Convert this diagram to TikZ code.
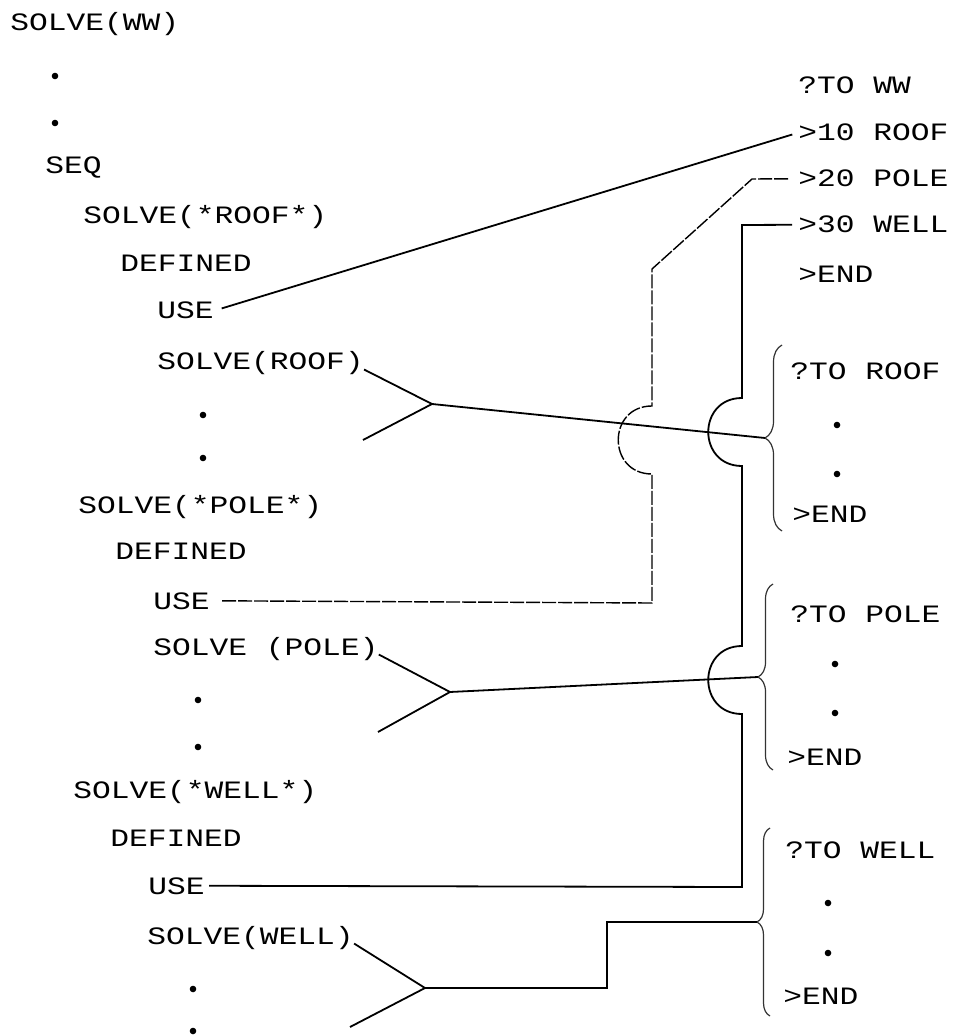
\documentclass[tikz,border=0pt]{standalone}
\usepackage{fontspec}
\setmonofont[FakeStretch=1.25]{Liberation Mono}
\usetikzlibrary{decorations.pathreplacing}

\begin{document}
\begin{tikzpicture}[
  x=0.5pt, y=-0.5pt,
  font=\ttfamily\fontsize{12.5}{15}\selectfont,
  txt/.style={anchor=base west, inner sep=0pt},
  dotm/.style={circle, fill, inner sep=0pt, minimum size=3.3pt},
  wire/.style={line width=0.9pt},
  dwire/.style={line width=0.7pt, dash pattern=on 7pt off 1pt},
  curly/.style={line width=0.6pt, black!80, decorate, decoration={brace, amplitude=#1}}
]
\useasboundingbox (0,0) rectangle (952,1036);

% ---- goal tree (left column) ----
\node[txt] (sww)     at (10,31)   {SOLVE(WW)};
\node[dotm] (d1)     at (55,76)   {};
\node[dotm] (d2)     at (55,123)  {};
\node[txt] (seq)     at (45,174)  {SEQ};

\node[txt] (sroofx)  at (83,224)  {SOLVE(*ROOF*)};
\node[txt] (defroof) at (120,272) {DEFINED};
\node[txt] (useroof) at (157,319) {USE};
\node[txt] (sroof)   at (157,370) {SOLVE(ROOF)};
\node[dotm] (d3)     at (203,415) {};
\node[dotm] (d4)     at (203,458) {};

\node[txt] (spolex)  at (78,513)  {SOLVE(*POLE*)};
\node[txt] (defpole) at (115,559) {DEFINED};
\node[txt] (usepole) at (153,609) {USE};
\node[txt] (spole)   at (153,655) {SOLVE (POLE)};
\node[dotm] (d5)     at (198,700) {};
\node[dotm] (d6)     at (198,747) {};

\node[txt] (swellx)  at (73,798)  {SOLVE(*WELL*)};
\node[txt] (defwell) at (110,846) {DEFINED};
\node[txt] (usewell) at (148,894) {USE};
\node[txt] (swell)   at (147,944) {SOLVE(WELL)};
\node[dotm] (d7)     at (193,989) {};
\node[dotm] (d8)     at (193,1031) {};

% ---- procedures (right column) ----
\node[txt] (toww)    at (798,94)  {?TO WW};
\node[txt] (l10)     at (798,141) {>10 ROOF};
\node[txt] (l20)     at (798,187) {>20 POLE};
\node[txt] (l30)     at (798,233) {>30 WELL};
\node[txt] (lend)    at (798,283) {>END};

\node[txt] (toroof)  at (790,380) {?TO ROOF};
\node[dotm] (r1)     at (837,425) {};
\node[dotm] (r2)     at (837,474) {};
\node[txt] (endroof) at (792,522) {>END};

\node[txt] (topole)  at (790,622) {?TO POLE};
\node[dotm] (p1)     at (835,664) {};
\node[dotm] (p2)     at (835,713) {};
\node[txt] (endpole) at (787,765) {>END};

\node[txt] (towell)  at (785,858) {?TO WELL};
\node[dotm] (w1)     at (828,903) {};
\node[dotm] (w2)     at (828,953) {};
\node[txt] (endwell) at (783,1004) {>END};

% ---- braces ----
\draw[curly=8.5pt] (782,531) -- (782,345);
\coordinate (troof) at (765,438);
\draw[curly=7.5pt] (773,770) -- (773,584);
\coordinate (tpole) at (758,677);
\draw[curly=6.5pt] (770,1016) -- (770,828);
\coordinate (twell) at (757,922);

% ---- USE links ----
\draw[wire, shorten <=4pt, shorten >=3pt] (useroof.east) -- (l10.west);

\draw[dwire, shorten <=6pt, shorten >=4pt] (usepole.east) -- (652,603) -- (652,474)
  .. controls (607,474) and (607,406) .. (652,406) -- (652,269) -- (752,179) -- (l20.west);

\draw[wire, shorten <=2pt, shorten >=3pt] (usewell.east) -- (742,887) -- (742,714)
  .. controls (697,714) and (697,646) .. (742,646) -- (742,466)
  .. controls (697,466) and (697,398) .. (742,398) -- (742,225) -- (l30.west);

% ---- SOLVE forks ----
\coordinate (jroof) at (432,404);
\coordinate (lroof) at (363,440);
\draw[wire] ([yshift=-3pt]sroof.east) -- (jroof) -- (lroof);
\draw[wire] (jroof) -- (troof);

\coordinate (jpole) at (450,692);
\coordinate (lpole) at (378,732);
\draw[wire] ([yshift=-3pt]spole.east) -- (jpole) -- (lpole);
\draw[wire] (jpole) -- (tpole);

\coordinate (jwell) at (425,988);
\coordinate (lwell) at (350,1027);
\draw[wire] ([yshift=-3pt]swell.east) -- (jwell) -- (lwell);
\draw[wire] (jwell) -- (607,988) -- (607,922) -- (twell);
\end{tikzpicture}
\end{document}
